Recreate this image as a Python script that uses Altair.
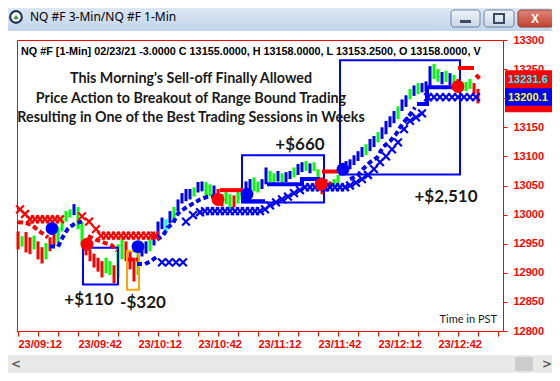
import altair as alt
import pandas as pd

# ---------------- data (minutes after 09:12, prices) ----------------
bar_minute = list(range(0, 232, 2))
bar_high = [12971, 12963, 12970, 12961, 12964, 12954, 12944, 12951, 12961, 12971,
            12978, 12995, 13006, 13009, 13018, 13013, 12988, 12949, 12940, 12933,
            12926, 12920, 12926, 12920, 12913, 12949, 12961, 12954, 12937, 12926,
            12944, 12949, 12954, 12957, 12964, 12988, 12995, 12992, 13006, 13013,
            13026, 13037, 13044, 13044, 13047, 13056, 13057, 13056, 13052, 13050,
            13044, 13035, 13044, 13035, 13033, 13044, 13047, 13057, 13061, 13064,
            13057, 13061, 13081, 13075, 13071, 13075, 13071, 13073, 13075, 13081,
            13087, 13090, 13092, 13088, 13090, 13078, 13064, 13061, 13057, 13061,
            13068, 13085, 13092, 13095, 13102, 13109, 13116, 13121, 13130, 13135,
            13142, 13150, 13161, 13169, 13178, 13186, 13198, 13205, 13216, 13222,
            13226, 13226, 13229, 13255, 13259, 13250, 13245, 13247, 13243, 13240,
            13233, 13229, 13228, 13233, 13226, 13216]
bar_low = [12940, 12945, 12935, 12932, 12940, 12923, 12916, 12923, 12937, 12947,
           12951, 12971, 12988, 12995, 12999, 12975, 12949, 12930, 12920, 12909,
           12902, 12892, 12899, 12896, 12882, 12892, 12923, 12920, 12906, 12885,
           12896, 12928, 12933, 12937, 12947, 12961, 12975, 12971, 12985, 12988,
           13006, 13019, 13023, 13026, 13031, 13038, 13040, 13033, 13031, 13030,
           13016, 13014, 13018, 13009, 13013, 13019, 13026, 13030, 13035, 13040,
           13038, 13044, 13052, 13056, 13054, 13057, 13054, 13056, 13061, 13064,
           13068, 13073, 13075, 13071, 13075, 13052, 13035, 13040, 13044, 13047,
           13050, 13068, 13075, 13078, 13085, 13092, 13099, 13102, 13109, 13116,
           13124, 13130, 13138, 13150, 13157, 13164, 13178, 13185, 13198, 13204,
           13207, 13210, 13212, 13219, 13233, 13228, 13224, 13228, 13222, 13221,
           13212, 13212, 13212, 13216, 13207, 13191]
bar_kind = list("RGRRGRRGRR" "GGGGBGGRRR" "RRGGRGGRRR" "GBBGBBBCBG" "BBBBGBBGGB"
                "RRGGRGGBBG" "GBBGGBGBBG" "BBGBGGRRRG" "GBBBBBBGBB" "GBBBBGBBGB"
                "GBBBGGBGBG" "RGGGRR")

red_x_minute = [1, 3.5, 6, 8.5, 11, 13.5, 16, 18.5, 21,
                32, 35.5, 39, 41.5, 44, 46.5, 49, 51.5, 54, 56.5, 59, 61.5, 64, 66.5, 68.5]
red_x_price = [13009, 13001, 12992, 12992, 12992, 12992, 12992, 12992, 12992,
               12997, 12988, 12975, 12964, 12964, 12964, 12964, 12964, 12964, 12964,
               12964, 12964, 12964, 12964, 12964]

blue_x_minute = [72, 75.5, 79, 82.5, 84, 87.5, 91,
                 93.5, 96, 98.5, 101, 103.5, 106, 108.5, 111, 113.5, 116, 118.5, 121,
                 123.5, 126, 129, 132, 135, 138, 141,
                 143.5, 146, 148.5, 151, 153.5, 156, 158.5, 161, 163.5,
                 166, 169, 172, 175, 178, 181, 184, 187, 190, 193, 196, 199, 202,
                 205, 208, 211, 214, 217, 220, 223, 226, 229]
blue_x_price = [12918, 12918, 12918, 12918, 12988, 12999, 13004,
                13006, 13006, 13006, 13006, 13006, 13006, 13006, 13006, 13006, 13006, 13006, 13006,
                13009, 13016, 13021, 13026, 13031, 13037, 13042,
                13047, 13047, 13047, 13047, 13047, 13047, 13047, 13047, 13047,
                13050, 13055, 13061, 13068, 13078, 13090, 13100, 13112, 13124, 13147, 13161, 13167, 13174,
                13202, 13202, 13202, 13202, 13202, 13202, 13202, 13202, 13202]

blue_dot_seg = [1] * 6 + [2] * 4 + [3] * 10 + [6] * 11
blue_dot_minute = [16, 20, 22.5, 25, 28.5, 32,
                   59.5, 63.5, 66.5, 69.5,
                   69.5, 72.5, 75, 77.5, 80, 83.5, 87, 91, 95, 99,
                   166, 169.5, 172.5, 176, 179.5, 182.5, 186, 189, 192, 195, 198.5]
blue_dot_price = [12945, 12945, 12962, 12976, 12985, 12988,
                  12915, 12915, 12920, 12928,
                  12957, 12964, 12978, 12985, 13002, 13011, 13018, 13026, 13031, 13031,
                  13061, 13066, 13078, 13090, 13098, 13116, 13126, 13138, 13155, 13167, 13184]

blue_stop_seg = [4, 4, 5, 5, 5, 5, 7, 7, 7, 7]
blue_stop_minute = [112.5, 123.5, 124.5, 142, 142, 151, 199.5, 204.5, 204.5, 221]
blue_stop_price = [13023, 13023, 13052, 13052, 13061, 13061, 13190, 13190, 13219, 13219]

red_dot_seg = [1] * 6 + [2] * 5 + [3] * 2 + [4] * 2
red_dot_minute = [0, 3.5, 7, 10, 13, 15, 35, 39, 43, 47, 49.5, 55, 60, 229, 231]
red_dot_price = [12987, 12986, 12982, 12973, 12966, 12961,
                 12963, 12957, 12952, 12947, 12938, 12923, 12923, 13240, 13233]

red_stop_seg = [1, 1, 2, 2, 3, 3]
red_stop_minute = [101, 112.5, 152, 161, 220, 228]
red_stop_price = [13042, 13042, 13074, 13074, 13252, 13252]

entry_minute = [17, 60, 114.5, 162.5]
entry_price = [12976, 12945, 13035, 13078]
exit_minute = [34.5, 100, 151.5, 220]
exit_price = [12949, 13026, 13052, 13220]

box_start = [32.5, 54.5, 112, 161]
box_end = [50, 60.5, 153, 221]
box_top = [12943, 12937, 13102, 13265]
box_bottom = [12880, 12871, 13021, 13069]
box_kind = ["win", "loss", "win", "win"]

marker_values = ["13231.6", "13200.1"]
marker_price = [13231.6, 13200.1]
marker_top = [13248, 13217]
marker_bottom = [13176, 13187]

header = "NQ #F [1-Min] 02/23/21  -3.0000 C 13155.0000, H 13158.0000, L 13153.2500, O 13158.0000, V"
title_lines = ["This Morning's Sell-off Finally Allowed",
               "Price Action to Breakout of Range Bound Trading",
               "Resulting in One of the Best Trading Sessions in Weeks"]
window_title = "NQ #F 3-Min/NQ #F 1-Min"

# ---------------- scales / axes ----------------
RED = "#ff0000"
BLUE = "#0000ff"
XS = alt.Scale(domain=[-0.5, 242.5], nice=False, zero=False)
YS = alt.Scale(domain=[12800, 13300], nice=False, zero=False)

label_expr = ("datum.value % 30 == 0 && datum.value <= 210 ? '23/' + (floor((552 + datum.value) / 60) < 10 ? '0' : '') + "
              "floor((552 + datum.value) / 60) + ':' + ((552 + datum.value) % 60 < 10 ? '0' : '') + "
              "((552 + datum.value) % 60) : ''")
X_AXIS = alt.Axis(values=list(range(0, 250, 10)), labelExpr=label_expr, labelAlign="left",
                  labelColor=RED, labelFont="Liberation Sans", labelFontWeight="bold", labelFontSize=11,
                  tickColor=RED, tickSize=5, domainColor=RED, grid=False, title=None,
                  labelPadding=2, labelOverlap=False, labelFlush=False)
Y_AXIS = alt.Axis(orient="right", values=list(range(12800, 13301, 50)), labelColor=RED,
                  labelFont="Liberation Sans", labelFontWeight="bold", labelFontSize=11,
                  labelExpr="datum.value == 13200 ? '' : datum.label",
                  tickColor=RED, tickSize=4, domainColor=RED, grid=False, title=None,
                  labelPadding=6, labelFlush=False, labelOverlap=False, format="d")


def xq(f):
    return alt.X(f, type="quantitative", scale=XS, axis=X_AXIS)


def yq(f):
    return alt.Y(f, type="quantitative", scale=YS, axis=Y_AXIS)


bars = pd.DataFrame({"m": bar_minute, "hi": bar_high, "lo": bar_low, "k": bar_kind})
layers = []

# price bars
layers.append(alt.Chart(bars).mark_rule(strokeWidth=3).encode(
    x=xq("m"), y=yq("lo"), y2="hi",
    color=alt.Color("k:N", scale=alt.Scale(domain=["R", "G", "B", "C"],
                                           range=[RED, "#00ff00", BLUE, "#00ffff"]), legend=None)))

# trade boxes
boxes = pd.DataFrame({"a": box_start, "b": box_end, "t": box_top, "u": box_bottom, "k": box_kind})
layers.append(alt.Chart(boxes).mark_rect(fillOpacity=0, strokeWidth=2).encode(
    x=xq("a"), x2="b", y=yq("t"), y2="u",
    stroke=alt.Stroke("k:N", scale=alt.Scale(domain=["win", "loss"], range=[BLUE, "#ffa500"]), legend=None)))


def line_layer(seg, mins, prices, color, dashed):
    df = pd.DataFrame({"s": seg, "m": mins, "p": prices, "i": list(range(len(mins)))})
    kw = dict(color=color, strokeWidth=4, strokeCap="butt")
    if dashed:
        kw["strokeDash"] = [5, 3]
    return alt.Chart(df).mark_line(**kw).encode(
        x=xq("m"), y=yq("p"), detail="s:N", order="i:Q")


layers.append(line_layer(blue_dot_seg, blue_dot_minute, blue_dot_price, BLUE, True))
layers.append(line_layer(blue_stop_seg, blue_stop_minute, blue_stop_price, BLUE, False))
layers.append(line_layer(red_dot_seg, red_dot_minute, red_dot_price, RED, True))
layers.append(line_layer(red_stop_seg, red_stop_minute, red_stop_price, RED, False))

XPATH = "M -1 -1 L 1 1 M 1 -1 L -1 1"
layers.append(alt.Chart(pd.DataFrame({"m": red_x_minute, "p": red_x_price})).mark_point(
    shape=XPATH, size=60, strokeWidth=2.2, color=RED, filled=False, opacity=1).encode(x=xq("m"), y=yq("p")))
layers.append(alt.Chart(pd.DataFrame({"m": blue_x_minute, "p": blue_x_price})).mark_point(
    shape=XPATH, size=60, strokeWidth=2.2, color=BLUE, filled=False, opacity=1).encode(x=xq("m"), y=yq("p")))

layers.append(alt.Chart(pd.DataFrame({"m": entry_minute, "p": entry_price})).mark_circle(
    size=165, color=BLUE, opacity=1).encode(x=xq("m"), y=yq("p")))
layers.append(alt.Chart(pd.DataFrame({"m": exit_minute, "p": exit_price})).mark_circle(
    size=165, color=RED, opacity=1).encode(x=xq("m"), y=yq("p")))

# price markers on the right axis
mk = pd.DataFrame({"v": marker_values, "p": marker_price, "t": marker_top, "b": marker_bottom})
mk_red = mk.iloc[[0]]
mk_blue = mk.iloc[[1]]
layers.append(alt.Chart(mk_red).mark_rect(color=RED).encode(
    x=alt.value(488), x2=alt.value(536), y=yq("t"), y2="b"))
layers.append(alt.Chart(mk_blue).mark_rect(color=BLUE).encode(
    x=alt.value(488), x2=alt.value(536), y=yq("t"), y2="b"))
layers.append(alt.Chart(mk_red).mark_text(align="left", baseline="middle", font="Liberation Sans",
                                          fontWeight="bold", fontSize=11, color="#00ffff").encode(
    x=alt.value(491), y=yq("p"), text="v:N"))
layers.append(alt.Chart(mk_blue).mark_text(align="left", baseline="middle", font="Liberation Sans",
                                           fontWeight="bold", fontSize=11, color="#ffff00").encode(
    x=alt.value(491), y=yq("p"), text="v:N"))

one = pd.DataFrame({"a": [0]})


def txt(s, x, y, **kw):
    return alt.Chart(one).mark_text(text=s, **kw).encode(x=alt.value(x), y=alt.value(y))


def box(x, x2, y, y2, **kw):
    return alt.Chart(one).mark_rect(**kw).encode(x=alt.value(x), x2=alt.value(x2), y=alt.value(y), y2=alt.value(y2))


layers.append(txt(header, 4, 12, align="left", baseline="middle", font="Liberation Sans",
                  fontWeight="bold", fontSize=10.8, color="#000000"))
for line, yy in zip(title_lines, [39, 59, 78]):
    layers.append(txt(line, 174, yy, align="center", baseline="middle", font="Lato",
                      fontWeight="bold", fontSize=14.3, color="#1a1a1a"))
ann_font = dict(align="center", baseline="middle", font="Lato", fontWeight="bold", fontSize=17, color="#1a1a1a")
layers.append(txt("+$660", 283, 105, **ann_font))
layers.append(txt("+$110", 72, 260, **ann_font))
layers.append(txt("-$320", 126, 263, **ann_font))
layers.append(txt("+$2,510", 429, 157, **ann_font))
layers.append(txt("Time in PST", 480, 280, align="right", baseline="middle", font="Lato",
                  fontSize=11, color="#1a1a1a"))

# window chrome
grad = alt.Gradient(gradient="linear", x1=0, x2=0, y1=0, y2=1,
                    stops=[alt.GradientStop(color="#dce7f4", offset=0),
                           alt.GradientStop(color="#c2d5eb", offset=1)])
layers.append(box(-9, 536, -32, -9, color=grad))
layers.append(alt.Chart(one).mark_circle(size=190, color="#1f3550", opacity=1).encode(
    x=alt.value(-1), y=alt.value(-23)))
layers.append(alt.Chart(one).mark_circle(size=90, color="#ffffff", opacity=1).encode(
    x=alt.value(-1), y=alt.value(-23)))
layers.append(alt.Chart(one).mark_point(shape="triangle-up", size=30, filled=True, color="#2e9b3a", opacity=1).encode(
    x=alt.value(-1), y=alt.value(-23)))
layers.append(txt(window_title, 13, -23, align="left", baseline="middle", font="Noto Sans",
                  fontSize=12, color="#000000"))
btn = alt.Gradient(gradient="linear", x1=0, x2=0, y1=0, y2=1,
                   stops=[alt.GradientStop(color="#eef3f9", offset=0),
                          alt.GradientStop(color="#c9d6e6", offset=1)])
layers.append(box(434, 463, -30, -13, color=btn, stroke="#6d83a0", strokeWidth=1, cornerRadius=3))
layers.append(box(443, 454, -20, -17, color="#3a4a60"))
layers.append(box(467, 497, -30, -13, color=btn, stroke="#6d83a0", strokeWidth=1, cornerRadius=3))
layers.append(box(477, 487, -26, -17, fillOpacity=0, stroke="#3a4a60", strokeWidth=2))
redb = alt.Gradient(gradient="linear", x1=0, x2=0, y1=0, y2=1,
                    stops=[alt.GradientStop(color="#e0867a", offset=0),
                           alt.GradientStop(color="#c4412f", offset=1)])
layers.append(box(501, 536, -30, -13, color=redb, stroke="#8a3a30", strokeWidth=1, cornerRadius=3))
layers.append(txt("X", 518, -21, align="center", baseline="middle", font="Liberation Sans",
                  fontWeight="bold", fontSize=12, color="#ffffff"))
layers.append(box(-9, 536, 315, 333, color="#e9e9e9"))
layers.append(box(498, 516, 317, 331, color="#cdcdcd"))
layers.append(txt("<", -1, 324, align="center", baseline="middle", font="DejaVu Sans",
                  fontWeight="bold", fontSize=12, color="#606060"))
layers.append(txt(">", 530, 324, align="center", baseline="middle", font="DejaVu Sans",
                  fontWeight="bold", fontSize=12, color="#606060"))

chart = alt.layer(*layers).properties(
    width=486, height=291,
    padding={"left": 9, "top": 32, "right": 49, "bottom": 42},
    autosize=alt.AutoSizeParams(type="none"),
    background="white",
).configure_view(stroke=RED, strokeWidth=1)

chart.save("out.html", embed_options={"renderer": "svg", "actions": False})
